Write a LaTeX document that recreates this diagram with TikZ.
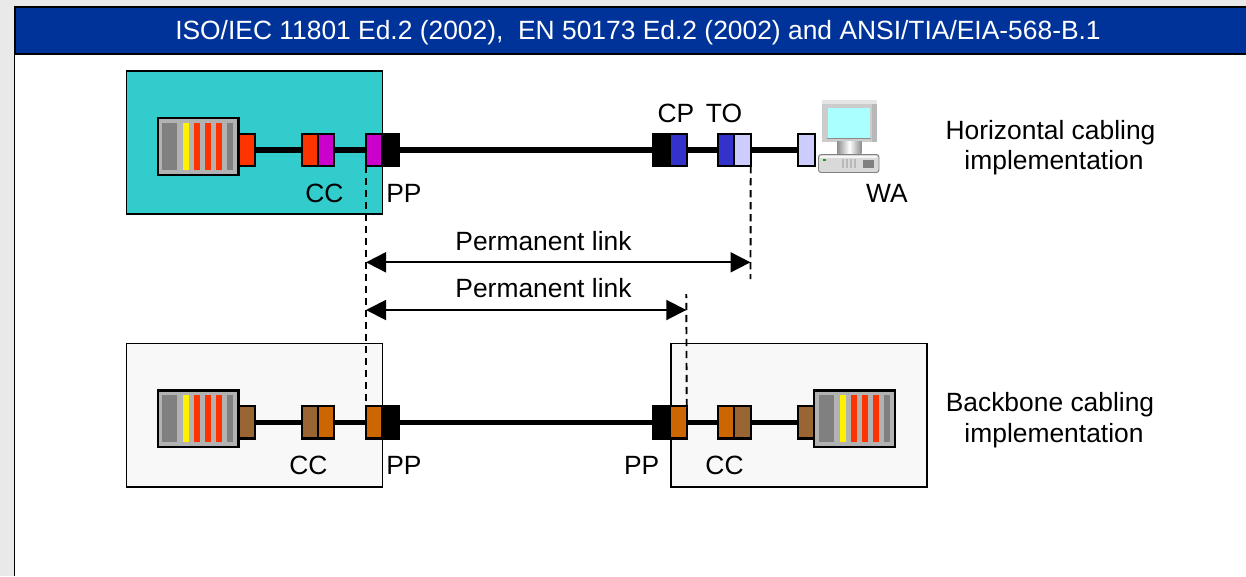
\documentclass[tikz,border=0pt]{standalone}
\usepackage{fontspec}
\setmainfont{Liberation Sans}
\usetikzlibrary{arrows.meta}
\definecolor{hdr}{HTML}{003399}
\definecolor{frameg}{HTML}{E9E9E9}
\definecolor{teal}{HTML}{33CCCC}
\definecolor{near}{HTML}{F8F8F8}
\definecolor{panelg}{HTML}{B2B2B2}
\definecolor{stripeg}{HTML}{808080}
\definecolor{redc}{HTML}{FF3300}
\definecolor{magc}{HTML}{CC00CC}
\definecolor{bluec}{HTML}{3333CC}
\definecolor{lightb}{HTML}{CCCCFF}
\definecolor{brownc}{HTML}{996633}
\definecolor{orangec}{HTML}{CC6600}
\definecolor{screenc}{HTML}{AAFFFF}
\tikzset{
  px/.style={x=0.75pt,y=-0.75pt},
  cable/.style={line width=4pt,black},
  room/.style={draw=black,line width=1.4pt},
  lbl/.style={font=\fontsize{19.8}{24}\selectfont,inner sep=0pt,text=black},
  dim/.style={line width=1.4pt,{Triangle[length=15pt,width=15pt]}-{Triangle[length=15pt,width=15pt]}},
  drop/.style={line width=1.4pt,dash pattern=on 5.5pt off 3.5pt},
}
% \blk{name}{x1}{x2}{y centre}{fill}
\newcommand{\blk}[5]{\pgfmathsetmacro{\bw}{(#3-#2)*0.75}\pgfmathsetmacro{\bx}{(#2+#3)/2}%
  \node[draw=black,line width=1.6pt,fill=#5,inner sep=0pt,outer sep=0pt,minimum width=\bw pt,minimum height=24.2pt] (#1) at (\bx,#4) {};}
% \panelbars{x offset}{y top}{y bottom}
\newcommand{\panelbars}[3]{%
  \foreach \a/\b/\c in {0/15/stripeg,21/27/yellow,32/38/redc,43/49/redc,54/60/redc,65/71/stripeg}
    \fill[\c] ({#1+\a},#2) rectangle ({#1+\b},#3);}
\begin{document}
\begin{tikzpicture}[px]
\useasboundingbox (0,0) rectangle (1246,576);
\fill[frameg] (0,0) rectangle (1246,576);
\fill[white] (15,54) rectangle (1246,576);
\node[fill=hdr,draw=black,line width=1.4pt,minimum width=927pt,minimum height=35.3pt,inner sep=0pt,anchor=north west] (header) at (14.5,6.3) {};
\draw[line width=1.4pt] (14.5,6.3) -- (14.5,576);
\node[font=\fontsize{19.8}{24}\selectfont,text=white,inner sep=0pt] (title) at (638,33) {ISO/IEC 11801 Ed.2 (2002),\ \ EN 50173 Ed.2 (2002) and ANSI/TIA/EIA-568-B.1};

% rooms
\node[room,fill=teal,inner sep=0pt,minimum width=192pt,minimum height=107.6pt,anchor=north west] (roomA) at (125.5,70) {};
\node[room,fill=near,inner sep=0pt,minimum width=192pt,minimum height=107.6pt,anchor=north west] (roomB) at (125.5,342.5) {};
\node[room,fill=near,inner sep=0pt,minimum width=192.2pt,minimum height=107.6pt,anchor=north west] (roomC) at (669.7,342.5) {};

% patch panels
\node[draw=black,line width=1.7pt,fill=panelg,inner sep=0pt,minimum width=60.5pt,minimum height=42.5pt] (panelA) at (198.2,146.6) {};
\panelbars{162}{122.7}{170}
\node[draw=black,line width=1.7pt,fill=panelg,inner sep=0pt,minimum width=60.5pt,minimum height=42.5pt] (panelB) at (198.2,418.7) {};
\panelbars{162}{395}{441.7}
\node[draw=black,line width=1.7pt,fill=panelg,inner sep=0pt,minimum width=60.5pt,minimum height=42.5pt] (panelC) at (854.5,418.7) {};
\panelbars{819}{395}{441.7}

% horizontal chain
\blk{a1}{238.7}{254.7}{150}{redc}
\blk{a2}{302}{318.3}{150}{redc}
\blk{a3}{318.3}{334.3}{150}{magc}
\blk{a4}{366}{382}{150}{magc}
\blk{a5}{382}{398.7}{150}{black}
\blk{a6}{653.3}{670}{150}{black}
\blk{a7}{670}{686.7}{150}{bluec}
\blk{a8}{717.7}{734.3}{150}{bluec}
\blk{a9}{734.3}{750.7}{150}{lightb}
\blk{a10}{797.7}{815}{150}{lightb}
\draw[cable] (a1.east) -- (a2.west);
\draw[cable] (a3.east) -- (a4.west);
\draw[cable] (a5.east) -- (a6.west);
\draw[cable] (a7.east) -- (a8.west);
\draw[cable] (a9.east) -- (a10.west);

% backbone chain
\blk{b1}{238.7}{254.7}{422.3}{brownc}
\blk{b2}{302}{318.3}{422.3}{brownc}
\blk{b3}{318.3}{334.3}{422.3}{orangec}
\blk{b4}{366}{382}{422.3}{orangec}
\blk{b5}{382}{398.7}{422.3}{black}
\blk{b6}{653.3}{670}{422.3}{black}
\blk{b7}{670}{686.7}{422.3}{orangec}
\blk{b8}{717.7}{734.3}{422.3}{orangec}
\blk{b9}{734.3}{750.7}{422.3}{brownc}
\blk{b10}{797.7}{814}{422.3}{brownc}
\draw[cable] (b1.east) -- (b2.west);
\draw[cable] (b3.east) -- (b4.west);
\draw[cable] (b5.east) -- (b6.west);
\draw[cable] (b7.east) -- (b8.west);
\draw[cable] (b9.east) -- (b10.west);

% computer
\node[fill=black!20,inner sep=0pt,minimum width=41pt,minimum height=31.3pt] (monitor) at (849.4,120.8) {};
\fill[black!10] (822,100) rectangle (876.7,104);
\fill[black!28] (871.5,104) rectangle (876.7,141.7);
\fill[black!45] (827,138) rectangle (871,139);
\fill[screenc] (827.7,108) rectangle (870,138);
\shade[left color=black!45,right color=black!45,middle color=white] (837,141.7) rectangle (861.5,153.5);
\draw[black!50,fill=black!15,line width=0.7pt,rounded corners=2pt] (818.5,154.5) rectangle (879,172.5);
\fill[black!4] (820,156) rectangle (877,158);
\fill[green!70!black] (823,158.5) rectangle (826,161);
\foreach \x in {842,846,850,854} \fill[black!28] (\x,159) rectangle (\x+2,168);
\fill[black!50] (863,160) rectangle (874,168);

% dashed drops
\draw[drop] (a4.south west) -- (b4.north west);
\coordinate (to-end) at (750.5,279);
\coordinate (pc-top) at (686.3,294);
\draw[drop] (a9.south east) -- (to-end);
\draw[drop] (b7.north east) -- (pc-top);

% dimension arrows
\coordinate (d1l) at (366,262.3);
\coordinate (d1r) at (750.5,262.3);
\coordinate (d2l) at (366,310);
\coordinate (d2r) at (686.3,310);
\draw[dim] (d1l) -- (d1r);
\draw[dim] (d2l) -- (d2r);
\node[lbl] (pl1) at (543.5,241) {Permanent link};
\node[lbl] (pl2) at (543.5,288.5) {Permanent link};

% labels
\node[lbl] (cc1) at (324.5,193) {CC};
\node[lbl,anchor=west] (pp1) at (386,193) {PP};
\node[lbl] (cp) at (676,113) {CP};
\node[lbl] (to) at (724,113) {TO};
\node[lbl] (wa) at (887,193) {WA};
\node[lbl] (cc2) at (308.5,465) {CC};
\node[lbl,anchor=west] (pp2) at (386,465) {PP};
\node[lbl,anchor=east] (pp3) at (659.5,465) {PP};
\node[lbl] (cc3) at (724.5,465) {CC};
\node[lbl] (h1) at (1050.5,132.5) {Horizontal cabling};
\node[lbl] (h2) at (1054,163) {implementation};
\node[lbl] (b1t) at (1050,404.5) {Backbone cabling};
\node[lbl] (b2t) at (1054,436) {implementation};
\end{tikzpicture}
\end{document}
